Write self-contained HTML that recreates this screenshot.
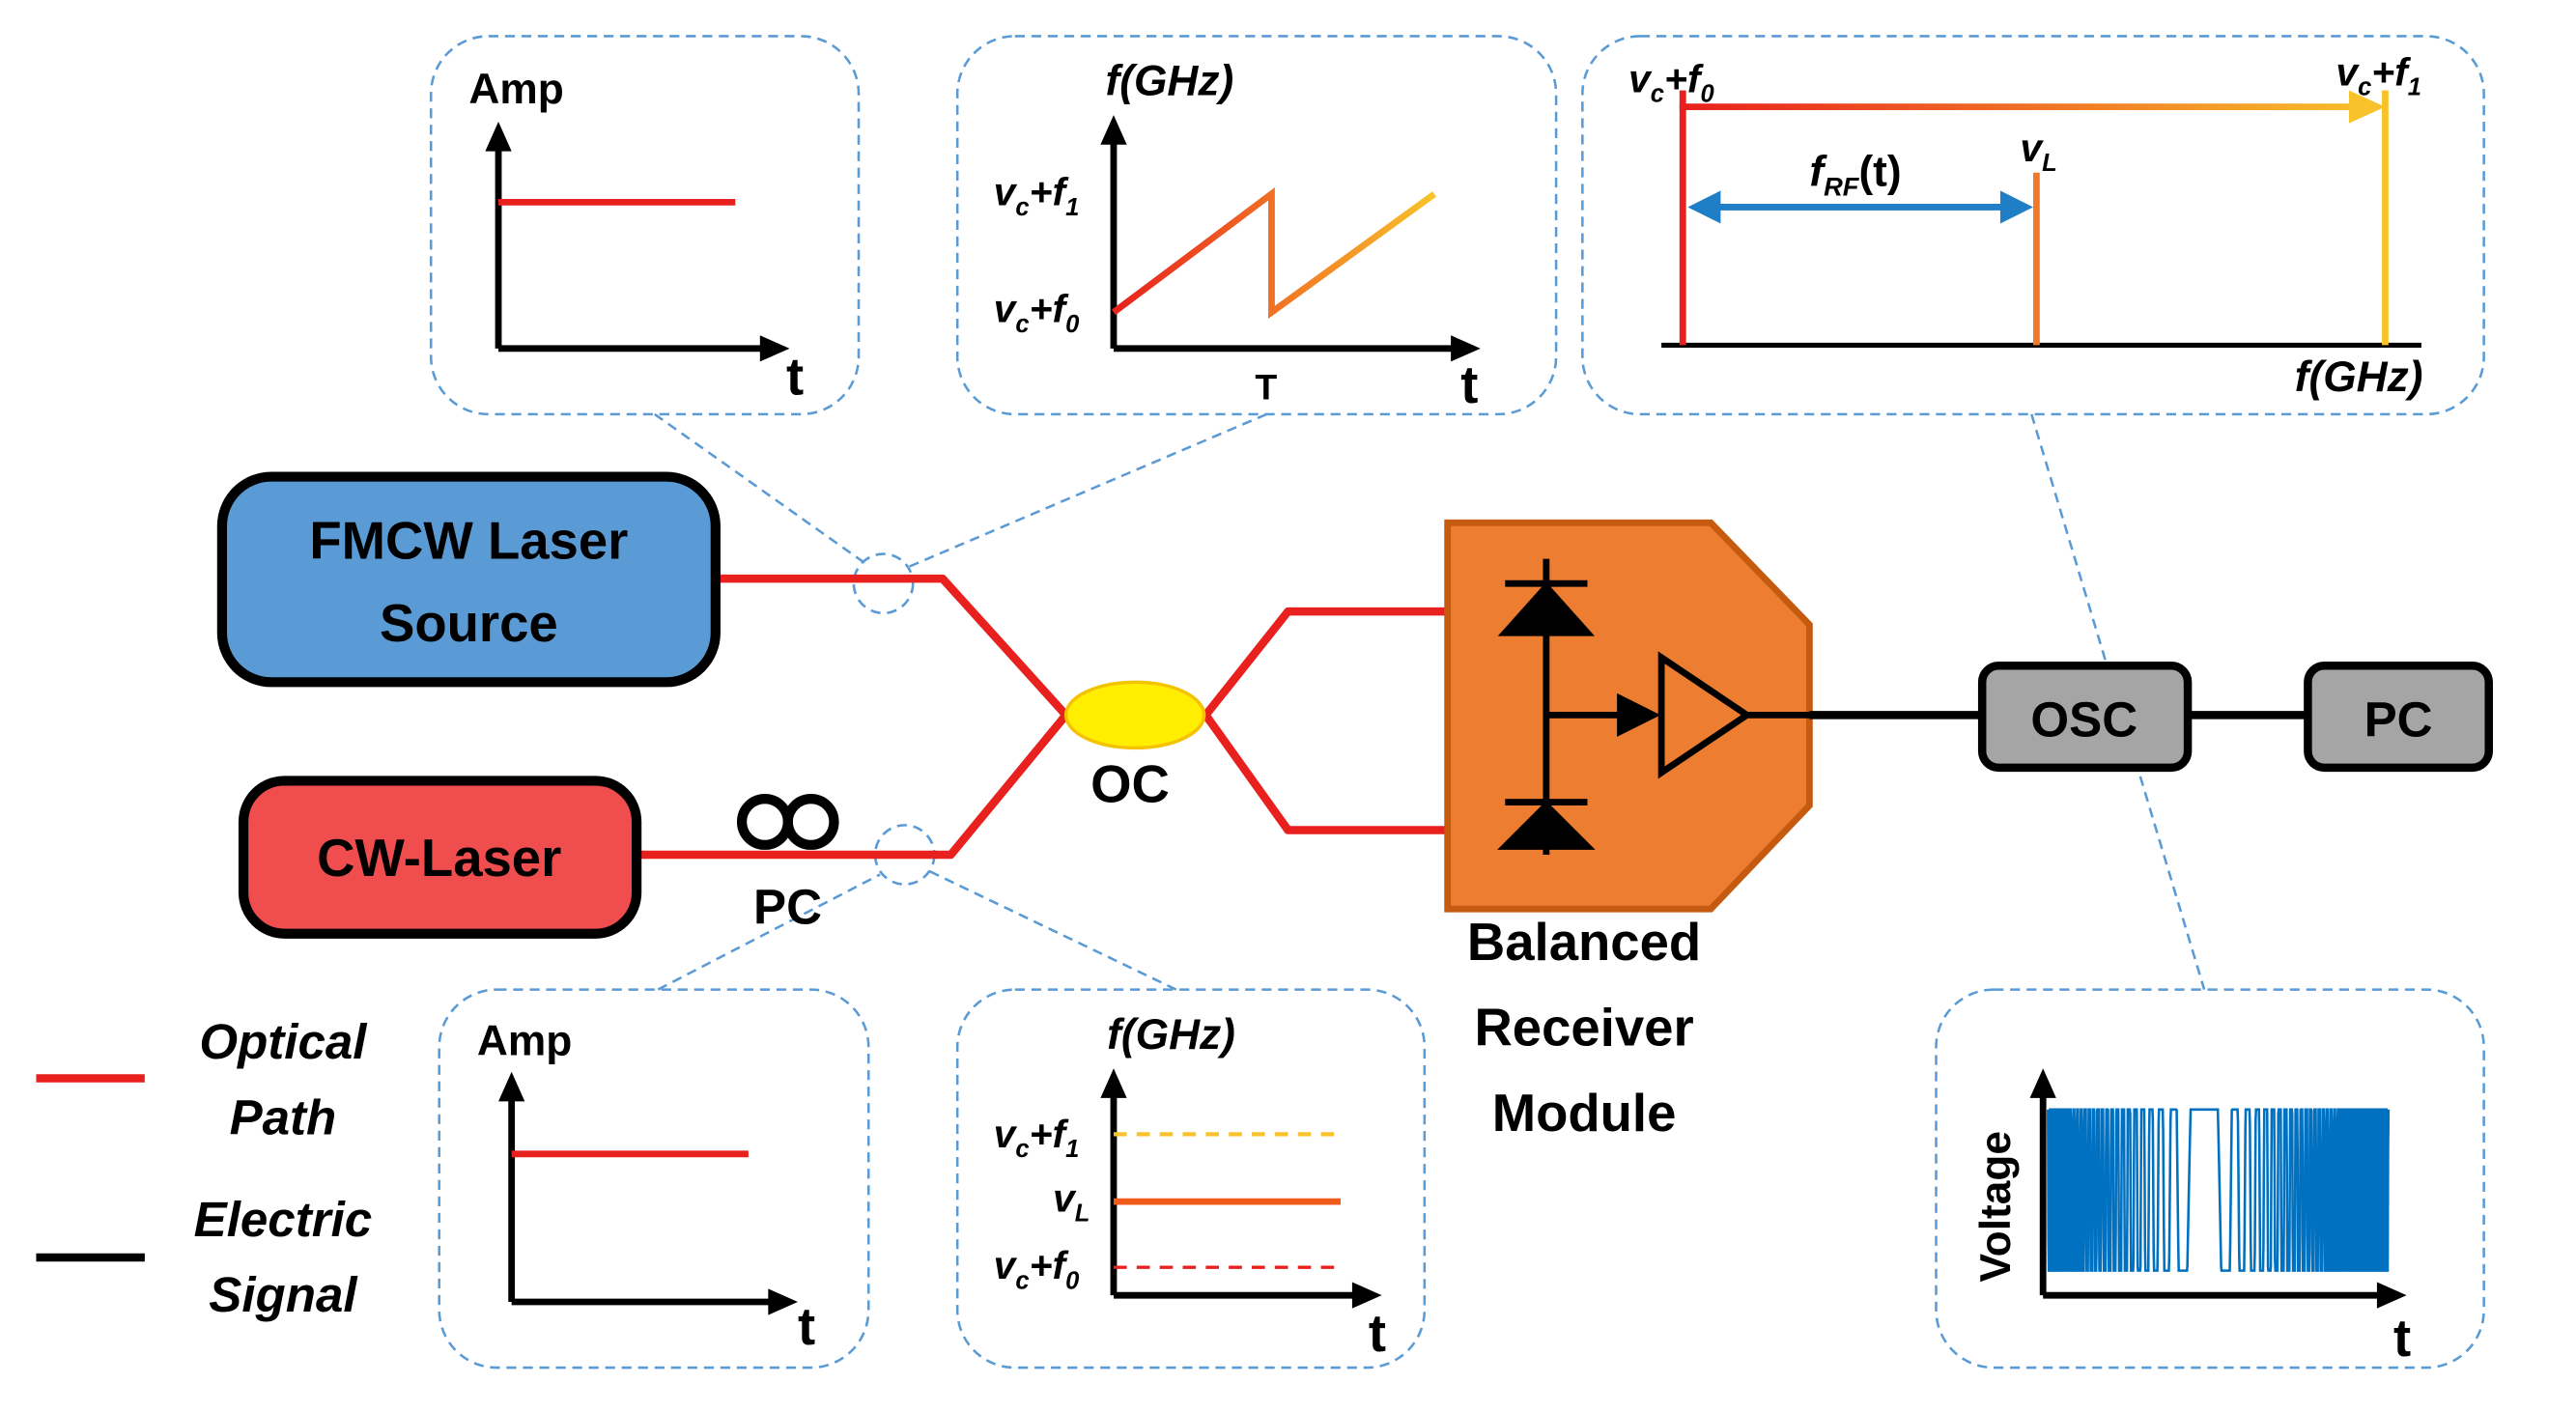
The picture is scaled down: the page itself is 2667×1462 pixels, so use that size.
<!DOCTYPE html>
<html><head><meta charset="utf-8"><style>
html,body{margin:0;padding:0;background:#fff}
svg{display:block}
text{font-family:"Liberation Sans",sans-serif;font-weight:bold;fill:#000}
</style></head><body>
<svg id="s" width="2667" height="1462" viewBox="0 0 1566 859" preserveAspectRatio="none" xmlns="http://www.w3.org/2000/svg">
<defs>
<linearGradient id="g1" x1="0" x2="1" y1="0" y2="0"><stop offset="0" stop-color="#e8201e"/><stop offset="1" stop-color="#f8c32a"/></linearGradient>
<linearGradient id="g2" gradientUnits="userSpaceOnUse" x1="1023" y1="0" x2="1450" y2="0"><stop offset="0" stop-color="#e8201e"/><stop offset="1" stop-color="#f8c32a"/></linearGradient>
</defs>
<g fill="none" stroke="#5b9bd5" stroke-width="1.5" stroke-dasharray="6,4">
<rect x="262" y="22" width="260" height="230" rx="35"/>
<rect x="582" y="22" width="364" height="230" rx="35"/>
<rect x="962" y="22" width="548" height="230" rx="35"/>
<rect x="267" y="602" width="261" height="230" rx="35"/>
<rect x="582" y="602" width="284" height="230" rx="35"/>
<rect x="1177" y="602" width="333" height="230" rx="35"/>
<circle cx="537" cy="355" r="18"/><circle cx="550" cy="520" r="18"/>
<line x1="398" y1="252" x2="525" y2="342"/><line x1="770" y1="252" x2="552" y2="345"/>
<line x1="400" y1="602" x2="535" y2="532"/><line x1="715" y1="602" x2="565" y2="530"/>
<line x1="1235" y1="252" x2="1340" y2="602"/>
</g>
<g stroke="#000" stroke-width="4" fill="none">
<path d="M303,212 V88"/><path d="M303,212 H466"/>
</g>
<path d="M295,92 L303,74 L311,92z M462,204 L480,212 L462,220z" fill="#000"/>
<line x1="303" y1="123" x2="447" y2="123" stroke="#e8201e" stroke-width="4"/>
<text x="285" y="63" font-size="26">Amp</text><text x="478" y="240" font-size="32">t</text>
<g stroke="#000" stroke-width="4" fill="none"><path d="M677,212 V84"/><path d="M677,212 H885"/></g>
<path d="M669,88 L677,70 L685,88z M882,204 L900,212 L882,220z" fill="#000"/>
<path d="M677,190 L773,118 L773,190 L872,118" stroke="url(#g1)" stroke-width="4" fill="none"/>
<text x="672" y="58" font-size="26" font-style="italic">f(GHz)</text>
<text x="604" y="125" font-size="24" font-style="italic">v<tspan font-size="15" dy="6">c</tspan><tspan dy="-6">+f</tspan><tspan font-size="15" dy="6">1</tspan></text>
<text x="604" y="196" font-size="24" font-style="italic">v<tspan font-size="15" dy="6">c</tspan><tspan dy="-6">+f</tspan><tspan font-size="15" dy="6">0</tspan></text>
<text x="763" y="243" font-size="22" font-weight="normal">T</text><text x="888" y="245" font-size="32">t</text>
<line x1="1010" y1="210" x2="1472" y2="210" stroke="#000" stroke-width="3"/>
<line x1="1023" y1="55" x2="1023" y2="210" stroke="#e8201e" stroke-width="4"/>
<line x1="1450" y1="55" x2="1450" y2="210" stroke="#f8c32a" stroke-width="4"/>
<rect x="1021" y="63" width="412" height="4" fill="url(#g2)"/>
<path d="M1428,55 L1450,65 L1428,75z" fill="#f8c32a"/>
<line x1="1238" y1="105" x2="1238" y2="210" stroke="#f07a2a" stroke-width="4"/>
<line x1="1040" y1="126" x2="1222" y2="126" stroke="#1f7ec5" stroke-width="4"/>
<path d="M1026,126 L1046,116 L1046,136z M1236,126 L1216,116 L1216,136z" fill="#1f7ec5"/>
<text x="990" y="56" font-size="24" font-style="italic">v<tspan font-size="15" dy="6">c</tspan><tspan dy="-6">+f</tspan><tspan font-size="15" dy="6">0</tspan></text>
<text x="1420" y="52" font-size="24" font-style="italic">v<tspan font-size="15" dy="6">c</tspan><tspan dy="-6">+f</tspan><tspan font-size="15" dy="6">1</tspan></text>
<text x="1228" y="98" font-size="24" font-style="italic">v<tspan font-size="15" dy="6">L</tspan></text>
<text x="1100" y="113" font-size="26" font-style="italic">f<tspan font-size="16" dy="6">RF</tspan><tspan dy="-6" font-style="normal">(t)</tspan></text>
<text x="1395" y="238" font-size="26" font-style="italic">f(GHz)</text>
<g stroke="#000" stroke-width="4" fill="none"><path d="M311,792 V668"/><path d="M311,792 H470"/></g>
<path d="M303,670 L311,652 L319,670z M467,784 L485,792 L467,800z" fill="#000"/>
<line x1="311" y1="702" x2="455" y2="702" stroke="#e8201e" stroke-width="4"/>
<text x="290" y="642" font-size="26">Amp</text><text x="485" y="818" font-size="32">t</text>
<g stroke="#000" stroke-width="4" fill="none"><path d="M677,788 V664"/><path d="M677,788 H825"/></g>
<path d="M669,668 L677,650 L685,668z M822,780 L840,788 L822,796z" fill="#000"/>
<line x1="677" y1="690" x2="815" y2="690" stroke="#f8c32a" stroke-width="2.5" stroke-dasharray="8,6"/>
<line x1="677" y1="731" x2="815" y2="731" stroke="#f05a1a" stroke-width="4"/>
<line x1="677" y1="771" x2="815" y2="771" stroke="#e8201e" stroke-width="2" stroke-dasharray="8,6"/>
<text x="673" y="638" font-size="26" font-style="italic">f(GHz)</text>
<text x="604" y="698" font-size="24" font-style="italic">v<tspan font-size="15" dy="6">c</tspan><tspan dy="-6">+f</tspan><tspan font-size="15" dy="6">1</tspan></text>
<text x="640" y="737" font-size="24" font-style="italic">v<tspan font-size="15" dy="6">L</tspan></text>
<text x="604" y="778" font-size="24" font-style="italic">v<tspan font-size="15" dy="6">c</tspan><tspan dy="-6">+f</tspan><tspan font-size="15" dy="6">0</tspan></text>
<text x="832" y="822" font-size="32">t</text>
<g stroke="#000" stroke-width="4" fill="none"><path d="M1242,788 V664"/><path d="M1242,788 H1448"/></g>
<path d="M1234,668 L1242,650 L1250,668z M1445,780 L1463,788 L1445,796z" fill="#000"/>
<path id="chirp" d="" stroke="#0070c0" stroke-width="1.5" fill="none"/>
<text transform="translate(1222,780) rotate(-90)" font-size="26">Voltage</text>
<text x="1455" y="825" font-size="32">t</text>
<g stroke="#e8201e" stroke-width="5" fill="none" stroke-linejoin="round">
<path d="M435,352 H573 L648,435"/><path d="M387,520 H578 L648,435"/>
<path d="M733,435 L783,372 H880"/><path d="M733,435 L783,505 H880"/>
</g>
<ellipse cx="690" cy="435" rx="42" ry="20" fill="#ffee00" stroke="#f4c200" stroke-width="2"/>
<text x="663" y="488" font-size="32">OC</text>
<circle cx="465" cy="500" r="14" fill="none" stroke="#000" stroke-width="6"/>
<circle cx="493" cy="500" r="14" fill="none" stroke="#000" stroke-width="6"/>
<text x="458" y="562" font-size="30">PC</text>
<rect x="135" y="290" width="300" height="125" rx="30" fill="#5b9bd5" stroke="#000" stroke-width="6"/>
<text x="285" y="340" font-size="32" text-anchor="middle">FMCW Laser</text>
<text x="285" y="390" font-size="32" text-anchor="middle">Source</text>
<rect x="148" y="475" width="239" height="93" rx="25" fill="#f04e4e" stroke="#000" stroke-width="6"/>
<text x="267" y="533" font-size="32" text-anchor="middle">CW-Laser</text>
<polygon points="880,318 1040,318 1100,380 1100,490 1040,553 880,553" fill="#ed7d31" stroke="#c55a11" stroke-width="4"/>
<g stroke="#000" stroke-width="4" fill="#000">
<line x1="940" y1="340" x2="940" y2="520"/>
<line x1="915" y1="355" x2="965" y2="355"/><polygon points="915,385 965,385 940,357"/>
<line x1="915" y1="488" x2="965" y2="488"/><polygon points="915,515 965,515 940,490"/>
<line x1="940" y1="435" x2="990" y2="435"/><polygon points="985,425 1005,435 985,445"/>
<polygon points="1010,400 1010,470 1062,435" fill="none"/>
<line x1="1062" y1="435" x2="1100" y2="435"/>
</g>
<text x="963" y="584" font-size="32" text-anchor="middle">Balanced</text>
<text x="963" y="636" font-size="32" text-anchor="middle">Receiver</text>
<text x="963" y="688" font-size="32" text-anchor="middle">Module</text>
<line x1="1100" y1="435" x2="1205" y2="435" stroke="#000" stroke-width="5"/>
<line x1="1330" y1="435" x2="1403" y2="435" stroke="#000" stroke-width="5"/>
<rect x="1205" y="405" width="125" height="62" rx="10" fill="#a5a5a5" stroke="#000" stroke-width="5"/>
<text x="1267" y="448" font-size="30" text-anchor="middle">OSC</text>
<rect x="1403" y="405" width="110" height="62" rx="10" fill="#a5a5a5" stroke="#000" stroke-width="5"/>
<text x="1458" y="448" font-size="30" text-anchor="middle">PC</text>
<line x1="22" y1="656" x2="88" y2="656" stroke="#e8201e" stroke-width="5"/>
<line x1="22" y1="765" x2="88" y2="765" stroke="#000" stroke-width="5"/>
<text x="172" y="644" font-size="30" font-style="italic" text-anchor="middle">Optical</text>
<text x="172" y="690" font-size="30" font-style="italic" text-anchor="middle">Path</text>
<text x="172" y="752" font-size="30" font-style="italic" text-anchor="middle">Electric</text>
<text x="172" y="798" font-size="30" font-style="italic" text-anchor="middle">Signal</text>
</svg>
<script>
(function(){var d="",x0=1245,x1=1452,c=1340,top=675,bot=773;
for(var x=x0;x<=x1;x+=0.25){var u=(x-c);var ph=u*u*0.018+1.57;var v=Math.sin(ph);var s=Math.max(-1,Math.min(1,v*3));var y=(top+bot)/2-s*(bot-top)/2;d+=(x==x0?"M":"L")+x.toFixed(2)+","+y.toFixed(1);}
document.getElementById("chirp").setAttribute("d",d);})();
</script>
</body></html>
